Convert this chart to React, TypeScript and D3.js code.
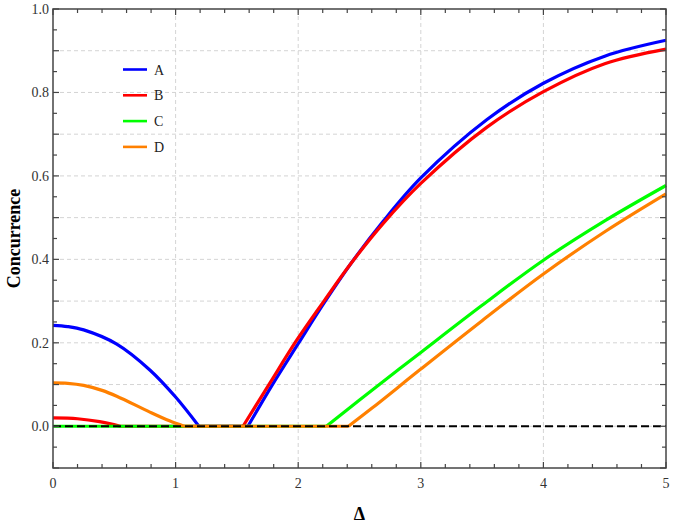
import React, { useEffect, useRef } from "react";
import * as d3 from "d3";

// Concurrence vs Delta: [delta, concurrence]
const seriesA: [number, number][] = [
  [0, 0.242], [0.12, 0.239], [0.25, 0.231], [0.52, 0.197], [0.79, 0.135], [1.0, 0.07], [1.19, 0],
  [1.59, 0], [1.79, 0.1], [2.0, 0.198], [2.21, 0.295], [2.43, 0.39], [2.69, 0.49],
  [3.0, 0.595], [3.54, 0.735], [4.0, 0.822], [4.5, 0.887], [5.0, 0.925],
];
const seriesB: [number, number][] = [
  [0, 0.02], [0.2, 0.018], [0.38, 0.011], [0.55, 0],
  [1.55, 0], [1.77, 0.104], [1.985, 0.205], [2.21, 0.3], [2.43, 0.39], [2.69, 0.485],
  [3.0, 0.582], [3.54, 0.717], [4.0, 0.802], [4.5, 0.869], [5.0, 0.904],
];
const seriesC: [number, number][] = [
  [0, 0], [2.23, 0], [2.5, 0.063], [3.0, 0.177], [3.5, 0.29], [4.0, 0.398],
  [4.51, 0.494], [5.0, 0.577],
];
const seriesD: [number, number][] = [
  [0, 0.104], [0.12, 0.103], [0.25, 0.098], [0.4, 0.086], [0.52, 0.072], [0.79, 0.034],
  [0.95, 0.013], [1.07, 0],
  [2.41, 0], [2.6, 0.043], [3.0, 0.137], [3.5, 0.253], [4.0, 0.365],
  [4.51, 0.468], [5.0, 0.557],
];

const labels = ["A", "B", "C", "D"];
const colors = ["#0000ff", "#ff0000", "#00ff00", "#ff8000"];
const xTickLabels = [0, 1, 2, 3, 4, 5];
const yTickLabels = [0, 0.2, 0.4, 0.6, 0.8, 1.0];

/** Split a series into zero runs and positive runs so the kinks stay sharp. */
function splitRuns(pts: [number, number][]) {
  const segs: [number, number][][] = [];
  let cur: [number, number][] = [pts[0]];
  for (let i = 1; i < pts.length; i++) {
    const prevZero = pts[i - 1][1] === 0;
    const zero = pts[i][1] === 0;
    if (prevZero && !zero) {
      if (cur.length > 1) segs.push(cur);
      cur = [pts[i - 1], pts[i]];
    } else {
      cur.push(pts[i]);
      if (zero && !prevZero) {
        segs.push(cur);
        cur = [pts[i]];
      }
    }
  }
  if (cur.length > 1) segs.push(cur);
  return segs;
}

export default function App() {
  const ref = useRef<SVGSVGElement>(null);

  useEffect(() => {
    const width = 675,
      height = 525;
    const left = 53,
      right = 666,
      top = 9,
      bottom = 468;
    const serif = "'Liberation Serif', 'Times New Roman', serif";
    const frameColor = "#444";

    const svg = d3.select(ref.current);
    svg.selectAll("*").remove();
    svg.attr("width", width).attr("height", height);

    const x = d3.scaleLinear().domain([0, 5]).range([left, right]);
    const y = d3.scaleLinear().domain([-0.1, 1.0]).range([bottom, top]);

    // Grid lines
    const grid = svg.append("g");
    grid
      .selectAll("line.gx")
      .data([1, 2, 3, 4])
      .enter()
      .append("line")
      .attr("x1", (d) => x(d))
      .attr("x2", (d) => x(d))
      .attr("y1", top)
      .attr("y2", bottom)
      .attr("stroke", "#d4d4d4")
      .attr("stroke-dasharray", "4,3");
    grid
      .selectAll("line.gy")
      .data(d3.range(0, 10).map((i) => i / 10))
      .enter()
      .append("line")
      .attr("x1", left)
      .attr("x2", right)
      .attr("y1", (d) => y(d))
      .attr("y2", (d) => y(d))
      .attr("stroke", "#d4d4d4")
      .attr("stroke-dasharray", "4,3");

    // Curves
    const line = d3
      .line<[number, number]>()
      .x((d) => x(d[0]))
      .y((d) => y(d[1]))
      .curve(d3.curveCatmullRom.alpha(0.5));

    const curves = svg.append("g");
    [seriesA, seriesB, seriesC, seriesD].forEach((s, i) => {
      splitRuns(s).forEach((seg) => {
        curves
          .append("path")
          .attr("d", line(seg))
          .attr("fill", "none")
          .attr("stroke", colors[i])
          .attr("stroke-width", 3.2)
          .attr("stroke-linejoin", "round");
      });
    });

    // Zero reference line
    svg
      .append("line")
      .attr("x1", left)
      .attr("x2", right)
      .attr("y1", y(0))
      .attr("y2", y(0))
      .attr("stroke", "#000")
      .attr("stroke-width", 2)
      .attr("stroke-dasharray", "8,4");

    // Frame
    svg
      .append("rect")
      .attr("x", left)
      .attr("y", top)
      .attr("width", right - left)
      .attr("height", bottom - top)
      .attr("fill", "none")
      .attr("stroke", frameColor)
      .attr("stroke-width", 1.5);

    // Ticks (inward) on all four sides
    const ticks = svg.append("g").attr("stroke", frameColor).attr("stroke-width", 1.2);
    const xTicks = d3.range(0, 26).map((i) => i / 5);
    xTicks.forEach((t) => {
      const len = Math.abs(t - Math.round(t)) < 1e-6 ? 6 : 4;
      ticks.append("line").attr("x1", x(t)).attr("x2", x(t)).attr("y1", bottom).attr("y2", bottom - len);
      ticks.append("line").attr("x1", x(t)).attr("x2", x(t)).attr("y1", top).attr("y2", top + len);
    });
    const yTicks = d3.range(-2, 21).map((i) => i / 20);
    yTicks.forEach((t) => {
      const len = Math.abs(t * 10 - Math.round(t * 10)) < 1e-6 ? 6 : 4;
      ticks.append("line").attr("x1", left).attr("x2", left + len).attr("y1", y(t)).attr("y2", y(t));
      ticks.append("line").attr("x1", right).attr("x2", right - len).attr("y1", y(t)).attr("y2", y(t));
    });

    // Tick labels
    svg
      .append("g")
      .selectAll("text")
      .data(xTickLabels)
      .enter()
      .append("text")
      .attr("x", (d) => x(d))
      .attr("y", 488)
      .attr("text-anchor", "middle")
      .attr("font-family", serif)
      .attr("font-size", 14)
      .attr("fill", "#333")
      .text((d) => d3.format("d")(d));
    svg
      .append("g")
      .selectAll("text")
      .data(yTickLabels)
      .enter()
      .append("text")
      .attr("x", 49)
      .attr("y", (d) => y(d) + 5)
      .attr("text-anchor", "end")
      .attr("font-family", serif)
      .attr("font-size", 14)
      .attr("fill", "#333")
      .text((d) => d3.format(".1f")(d));

    // Axis titles
    svg
      .append("text")
      .attr("transform", "translate(20," + (top + bottom) / 2 + ") rotate(-90)")
      .attr("text-anchor", "middle")
      .attr("font-family", serif)
      .attr("font-weight", "bold")
      .attr("font-size", 18)
      .text("Concurrence");
    svg
      .append("text")
      .attr("x", (left + right) / 2)
      .attr("y", 520)
      .attr("text-anchor", "middle")
      .attr("font-family", serif)
      .attr("font-weight", "bold")
      .attr("font-size", 18)
      .text("Δ");

    // Legend
    const legend = svg
      .selectAll(".legend")
      .data(labels)
      .enter()
      .append("g")
      .attr("transform", (d, i) => "translate(123," + (69.5 + i * 25.8) + ")");
    legend
      .append("line")
      .attr("x1", 0)
      .attr("x2", 24)
      .attr("stroke", (d, i) => colors[i])
      .attr("stroke-width", 2.6);
    legend
      .append("text")
      .attr("x", 31)
      .attr("y", 5)
      .attr("font-family", serif)
      .attr("font-size", 14)
      .attr("fill", "#222")
      .text((d) => d);
  }, []);

  return (
    <svg
      ref={ref}
      style={{ position: "absolute", left: 0, top: 0, background: "#fff" }}
    ></svg>
  );
}
